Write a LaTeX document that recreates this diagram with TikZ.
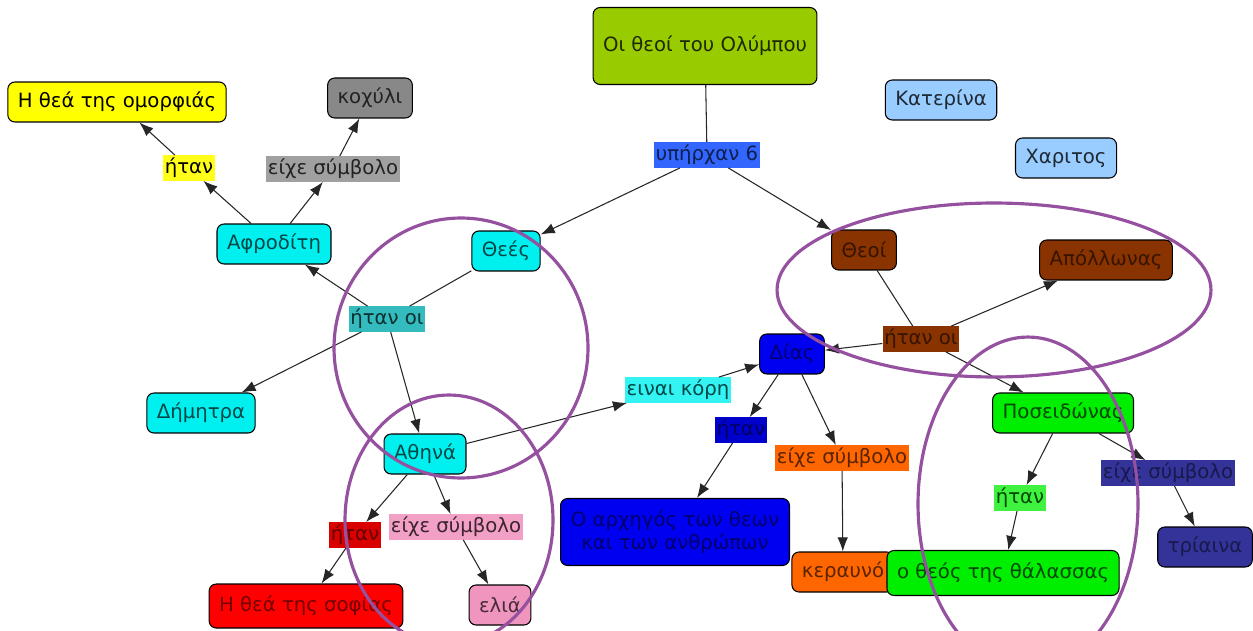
\documentclass[tikz,border=0pt]{standalone}
\usepackage{fontspec}
\setmainfont{DejaVu Sans}
\usetikzlibrary{arrows.meta}

\definecolor{olivebox}{RGB}{153,204,0}
\definecolor{skybox}{RGB}{153,204,255}
\definecolor{yellowbox}{RGB}{255,255,0}
\definecolor{greybox}{RGB}{136,136,136}
\definecolor{cyanbox}{RGB}{0,240,240}
\definecolor{redbox}{RGB}{255,0,0}
\definecolor{pinkbox}{RGB}{240,150,190}
\definecolor{bluebox}{RGB}{0,0,240}
\definecolor{brownbox}{RGB}{136,51,0}
\definecolor{orangebox}{RGB}{255,102,0}
\definecolor{greenbox}{RGB}{0,238,0}
\definecolor{navybox}{RGB}{51,51,153}
\definecolor{tealtag}{RGB}{51,187,190}
\definecolor{bluetag}{RGB}{51,102,255}
\definecolor{ringpurple}{RGB}{150,80,160}

\begin{document}
\begin{tikzpicture}[x=0.02cm, y=-0.02cm, font=\fontsize{11.2}{13}\selectfont,
    >={Latex[length=8pt,width=6pt]}]
  \useasboundingbox (0,0) rectangle (1253,631);
  \fill [white] (0,0) rectangle (1253,631);  % Hintergrund
  \clip (0,0) rectangle (1253,631);

  \tikzstyle{concept}=[draw, rounded corners=4pt, line width=0.6pt, minimum height=0.8cm, inner xsep=0.2cm]
  \tikzstyle{phrase}=[inner xsep=1pt, inner ysep=1.5pt, minimum height=0.5cm]
  \tikzstyle{link}=[draw, line width=0.6pt, black!85]
  \tikzstyle{ring}=[draw=ringpurple, line width=1.8pt]
  \tikzstyle{c-olive}=[fill=olivebox, text=olivebox!20!black]
  \tikzstyle{c-sky}=[fill=skybox, text=skybox!20!black]
  \tikzstyle{c-yellow}=[fill=yellowbox, text=black]
  \tikzstyle{c-grey}=[fill=greybox, text=greybox!25!black]
  \tikzstyle{c-cyan}=[fill=cyanbox, text=cyanbox!30!black]
  \tikzstyle{c-red}=[fill=redbox, text=redbox!45!black]
  \tikzstyle{c-pink}=[fill=pinkbox, text=pinkbox!30!black]
  \tikzstyle{c-blue}=[fill=bluebox, text=bluebox!45!black]
  \tikzstyle{c-brown}=[fill=brownbox, text=brownbox!40!black]
  \tikzstyle{c-orange}=[fill=orangebox, text=orangebox!35!black]
  \tikzstyle{c-green}=[fill=greenbox, text=greenbox!30!black]
  \tikzstyle{c-navy}=[fill=navybox, text=navybox!50!black]
  \tikzstyle{p-teal}=[fill=tealtag, text=tealtag!25!black]
  \tikzstyle{p-blue}=[fill=bluetag, text=bluetag!30!black]
  \tikzstyle{p-yellow}=[fill=yellowbox!90!white, text=black]
  \tikzstyle{p-grey}=[fill=greybox!80!white, text=greybox!25!black]
  \tikzstyle{p-cyan}=[fill=cyanbox!80!white, text=cyanbox!30!black]
  \tikzstyle{p-red}=[fill=redbox!85!black, text=redbox!40!black]
  \tikzstyle{p-pink}=[fill=pinkbox!90!white, text=pinkbox!25!black]
  \tikzstyle{p-blue2}=[fill=bluebox!85!black, text=bluebox!40!black]
  \tikzstyle{p-green}=[fill=greenbox!75!white, text=greenbox!30!black]

  % Wurzel
  \node[concept, c-olive, minimum width=4.46cm, minimum height=1.54cm] (olympus) at (705,46) {Οι θεοί του Ολύμπου};
  \node[concept, c-sky] (katerina) at (941,100) {Κατερίνα};
  \node[concept, c-sky] (charitos) at (1066,158) {Χαριτος};
  \node[phrase, p-blue] (exist) at (707,155) {υπήρχαν 6};

  % Θεές
  \node[concept, c-cyan] (thees)    at (506,251) {Θεές};
  \node[phrase, p-teal]  (wereF)    at (387,319) {ήταν οι};
  \node[concept, c-cyan] (afroditi) at (274,244) {Αφροδίτη};
  \node[concept, c-cyan] (dimitra)  at (201,413) {Δήμητρα};
  \node[concept, c-cyan] (athina)   at (425,454) {Αθηνά};
  \node[phrase, p-yellow] (afrWas)  at (189,168) {ήταν};
  \node[phrase, p-grey]   (afrSym)  at (333,169) {είχε σύμβολο};
  \node[concept, c-yellow] (beauty) at (117,102) {Η θεά της ομορφιάς};
  \node[concept, c-grey]   (shell)  at (370,98)  {κοχύλι};
  \node[phrase, p-red]   (athWas)   at (355,535) {ήταν};
  \node[phrase, p-pink]  (athSym)   at (456,527) {είχε σύμβολο};
  \node[concept, c-red, minimum width=3.86cm, minimum height=0.88cm] (wisdom) at (306,606) {Η θεά της σοφίας};
  \node[concept, c-pink] (olive)    at (500,605) {ελιά};
  \node[phrase, p-cyan]  (daughter) at (678,390) {ειναι κόρη};

  % Θεοί
  \node[concept, c-brown] (theoi)   at (864,250)  {Θεοί};
  \node[concept, c-brown] (apollo)  at (1106,260) {Απόλλωνας};
  \node[phrase, c-brown]  (wereM)   at (921,339)  {ήταν οι};
  \node[concept, c-blue]  (dias)    at (792,354)  {Δίας};
  \node[phrase, p-blue2]  (diasWas) at (741,430)  {ήταν};
  \node[phrase, c-orange] (diasSym) at (842,458)  {είχε σύμβολο};
  \node[concept, c-blue, minimum width=4.58cm, minimum height=1.34cm, align=center] (leader) at (675,532) {Ο αρχηγός των θεων\\και των ανθρώπων};
  \node[concept, c-orange] (thunder) at (843,572) {κεραυνό};
  \node[concept, c-green, minimum width=2.82cm] (poseidon) at (1063,413) {Ποσειδώνας};
  \node[phrase, p-green]  (posWas)  at (1020,498) {ήταν};
  \node[phrase, c-navy]   (posSym)  at (1168,473) {είχε σύμβολο};
  \node[concept, c-navy]  (trident) at (1205,547) {τρίαινα};
  \node[concept, c-green, minimum width=4.6cm, minimum height=0.9cm] (sea) at (1003,573) {ο θεός της θάλασσας};

  \path[link] (olympus) -- (exist);
  \path[link, ->] (exist) edge (thees) edge (theoi);
  \path[link] (thees) -- (wereF);
  \path[link, ->] (wereF) edge (afroditi) edge (dimitra) edge (athina);
  \path[link, ->] (afroditi) edge (afrWas) edge (afrSym);
  \path[link, ->] (afrWas) edge (beauty);
  \path[link, ->] (afrSym) edge (shell);
  \path[link, ->] (athina) edge (athWas) edge (athSym) edge (daughter);
  \path[link, ->] (athWas) edge (wisdom);
  \path[link, ->] (athSym) edge (olive);
  \path[link, ->] (daughter) edge (dias);
  \path[link] (theoi) -- (wereM);
  \path[link, ->] (wereM) edge (apollo) edge (dias) edge (poseidon);
  \path[link, ->] (dias) edge (diasWas) edge (diasSym);
  \path[link, ->] (diasWas) edge (leader);
  \path[link, ->] (diasSym) edge (thunder);
  \path[link, ->] (poseidon) edge (posWas) edge (posSym);
  \path[link, ->] (posWas) edge (sea);
  \path[link, ->] (posSym) edge (trident);

  % Kreise
  \draw[ring] (461,348) ellipse [x radius=2.54cm, y radius=2.6cm];
  \draw[ring] (449,520) ellipse [x radius=2.08cm, y radius=2.5cm];
  \draw[ring] (994,290) ellipse [x radius=4.34cm, y radius=1.74cm];
  \draw[ring] (1028,504) ellipse [x radius=2.2cm, y radius=3.34cm];
\end{tikzpicture}
\end{document}
